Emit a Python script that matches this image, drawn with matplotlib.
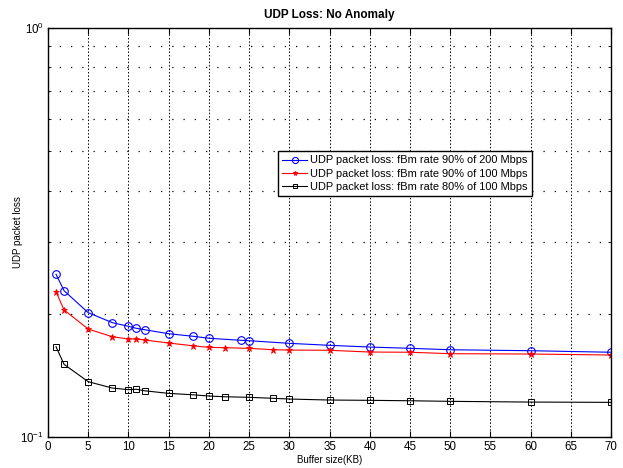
import matplotlib
matplotlib.use('Agg')
import matplotlib.pyplot as plt
from matplotlib.ticker import LogLocator, NullFormatter, FixedLocator

plt.rcParams['font.family'] = ['Liberation Sans', 'DejaVu Sans']

# Buffer size (KB) ja pakettihäviöt
x_200_90 = [1, 2, 5, 8, 10, 11, 12, 15, 18, 20, 24, 25, 30, 35, 40, 45, 50, 60, 70]
loss_200_90 = [0.250, 0.228, 0.2015, 0.1905, 0.1866, 0.1845, 0.1831, 0.1790, 0.1765, 0.1745,
               0.1725, 0.1721, 0.1696, 0.1677, 0.1661, 0.1649, 0.1636, 0.1627, 0.1613]

x_100 = [1, 2, 5, 8, 10, 11, 12, 15, 18, 20, 22, 25, 28, 30, 35, 40, 45, 50, 60, 70]
loss_100_90 = [0.2267, 0.2046, 0.1838, 0.1760, 0.1738, 0.1738, 0.1728, 0.1699, 0.1673, 0.1658,
               0.1655, 0.1649, 0.1636, 0.1633, 0.1631, 0.1615, 0.1613, 0.1600, 0.1597, 0.1588]
loss_100_80 = [0.1664, 0.1507, 0.1367, 0.1319, 0.1307, 0.1310, 0.1299, 0.1280, 0.1270, 0.1261,
               0.1256, 0.1252, 0.1245, 0.1240, 0.1233, 0.1231, 0.1228, 0.1224, 0.1219, 0.1217]

labels = ['UDP packet loss: fBm rate 90% of 200 Mbps',
          'UDP packet loss: fBm rate 90% of 100 Mbps',
          'UDP packet loss: fBm rate 80% of 100 Mbps']
x_ticks = list(range(0, 71, 5))

fig = plt.figure(figsize=(6.23, 4.68), dpi=100)
ax = fig.add_axes([0.077, 0.0656, 0.904, 0.8752])

ax.plot(x_200_90, loss_200_90, color='blue', marker='o', markersize=5.5,
        markerfacecolor='none', markeredgewidth=0.8, linewidth=0.8, label=labels[0])
ax.plot(x_100, loss_100_90, color='red', marker='*', markersize=4.5,
        markeredgewidth=0.6, linewidth=0.8, label=labels[1])
ax.plot(x_100, loss_100_80, color='black', marker='s', markersize=4,
        markerfacecolor='none', markeredgewidth=0.7, linewidth=0.8, label=labels[2])

ax.set_yscale('log')
ax.set_ylim(0.1, 1)
ax.set_xlim(0, 70)
ax.xaxis.set_major_locator(FixedLocator(x_ticks))
ax.yaxis.set_major_locator(LogLocator(base=10))
ax.yaxis.set_minor_locator(LogLocator(base=10, subs=range(2, 10)))
ax.yaxis.set_minor_formatter(NullFormatter())

ax.grid(True, axis='x', which='major', linestyle=(0, (1.5, 2)), color='black', linewidth=0.7)
ax.grid(True, axis='y', which='minor', linestyle=(0, (1, 8)), color='black', linewidth=0.9)

ax.tick_params(which='both', direction='in', top=True, right=True, labelsize=8.3, pad=3)
ax.tick_params(which='major', length=4)
ax.tick_params(which='minor', length=2.5)
for s in ax.spines.values():
    s.set_linewidth(1.0)

ax.set_title('UDP Loss: No Anomaly', fontsize=8.5, fontweight='bold', pad=7)
ax.set_xlabel('Buffer size(KB)', fontsize=7, labelpad=1)
ax.set_ylabel('UDP packet loss', fontsize=7, labelpad=-2)

leg = ax.legend(loc='upper right', bbox_to_anchor=(0.86, 0.699), fontsize=7.9,
                fancybox=False, framealpha=1, edgecolor='black', borderpad=0.4,
                labelspacing=0.3, handlelength=2.3, handletextpad=0.3, borderaxespad=0,
                markerscale=0.8)
leg.get_frame().set_linewidth(1.0)

plt.savefig('out.png', dpi=100)
